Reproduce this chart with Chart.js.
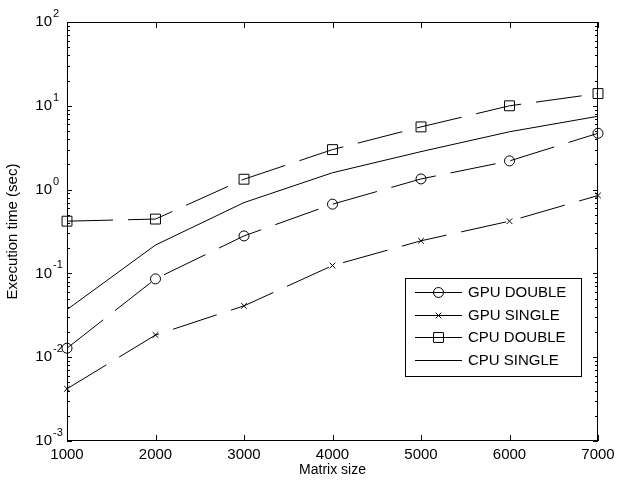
<!DOCTYPE html>
<html>
<head>
<meta charset="utf-8">
<script src="https://cdn.jsdelivr.net/npm/chart.js@4.4.1/dist/chart.umd.min.js"></script>
<style>
  body { margin: 0; background: #fff; }
  canvas { display: block; }
</style>
</head>
<body>
<canvas id="grafico" width="617" height="481"></canvas>
<script>
// dados
const matrixSizes = [1000, 2000, 3000, 4000, 5000, 6000, 7000];
const gpuDouble = [0.0128, 0.086, 0.28, 0.67, 1.34, 2.2, 4.7];
const gpuSingle = [0.0042, 0.0184, 0.041, 0.124, 0.245, 0.42, 0.85];
const cpuDouble = [0.42, 0.445, 1.33, 3.0, 5.6, 10, 14];
const cpuSingle = [0.037, 0.218, 0.70, 1.59, 2.84, 4.9, 7.5];

const xTickLabels = ['1000', '2000', '3000', '4000', '5000', '6000', '7000'];
const yTickExponents = [-3, -2, -1, 0, 1, 2];

const FONTE = '"Liberation Sans", Arial, sans-serif';

function pontos(valores) {
    return matrixSizes.map((x, i) => ({ x: x, y: valores[i] }));
}

function serie(label, valores, estilo, raio, tracejado) {
    return {
        label: label,
        data: pontos(valores),
        borderColor: '#000',
        borderWidth: 1,
        borderDash: tracejado ? [46, 15] : [],
        pointStyle: estilo,
        pointRadius: raio,
        pointBorderColor: '#000',
        pointBackgroundColor: 'rgba(0,0,0,0)',
        pointBorderWidth: 1,
        tension: 0,
        clip: false
    };
}

// eixos no estilo matlab: caixa, ticks para dentro, legenda com borda
const eixosMatlab = {
    id: 'eixosMatlab',
    afterDraw(chart) {
        const ctx = chart.ctx;
        const area = chart.chartArea;
        const sx = chart.scales.x;
        const sy = chart.scales.y;

        ctx.save();
        ctx.strokeStyle = '#000';
        ctx.lineWidth = 1;
        ctx.setLineDash([]);

        // caixa
        ctx.strokeRect(area.left + 0.5, area.top + 0.5, area.right - area.left - 1, area.bottom - area.top - 1);

        ctx.beginPath();
        // ticks x
        xTickLabels.forEach(t => {
            const px = Math.round(sx.getPixelForValue(Number(t))) + 0.5;
            ctx.moveTo(px, area.bottom);
            ctx.lineTo(px, area.bottom - 6);
            ctx.moveTo(px, area.top);
            ctx.lineTo(px, area.top + 6);
        });
        // ticks y maiores e menores
        yTickExponents.forEach(e => {
            const py = Math.round(sy.getPixelForValue(Math.pow(10, e))) + 0.5;
            ctx.moveTo(area.left, py);
            ctx.lineTo(area.left + 5, py);
            ctx.moveTo(area.right, py);
            ctx.lineTo(area.right - 5, py);
            if (e < yTickExponents[yTickExponents.length - 1]) {
                for (let m = 2; m <= 9; m++) {
                    const pm = Math.round(sy.getPixelForValue(m * Math.pow(10, e))) + 0.5;
                    ctx.moveTo(area.left, pm);
                    ctx.lineTo(area.left + 3, pm);
                    ctx.moveTo(area.right, pm);
                    ctx.lineTo(area.right - 3, pm);
                }
            }
        });
        ctx.stroke();

        // rótulos x
        ctx.fillStyle = '#000';
        ctx.font = '15px ' + FONTE;
        ctx.textAlign = 'center';
        ctx.textBaseline = 'middle';
        xTickLabels.forEach(t => {
            ctx.fillText(t, sx.getPixelForValue(Number(t)), area.bottom + 14);
        });

        // rótulos y com expoente
        yTickExponents.forEach(e => {
            const py = sy.getPixelForValue(Math.pow(10, e));
            ctx.font = '15px ' + FONTE;
            ctx.textAlign = 'right';
            ctx.textBaseline = 'middle';
            ctx.fillText('10', area.left - 15, py);
            ctx.font = '11px ' + FONTE;
            ctx.textAlign = 'left';
            ctx.fillText(String(e), area.left - 14, py - 8);
        });

        // títulos dos eixos
        ctx.font = '14px ' + FONTE;
        ctx.textAlign = 'center';
        ctx.textBaseline = 'middle';
        ctx.fillText('Matrix size', (area.left + area.right) / 2, area.bottom + 29);
        ctx.save();
        ctx.font = '15px ' + FONTE;
        ctx.translate(13, (area.top + area.bottom) / 2);
        ctx.rotate(-Math.PI / 2);
        ctx.fillText('Execution time (sec)', 0, 0);
        ctx.restore();

        // legenda
        const lx = 405, ly = 278, lw = 176, lh = 98;
        ctx.fillStyle = '#fff';
        ctx.fillRect(lx, ly, lw, lh);
        ctx.strokeRect(lx + 0.5, ly + 0.5, lw, lh);
        chart.data.datasets.forEach((ds, i) => {
            const y = Math.round(ly + 14 + i * 22.7) + 0.5;
            ctx.beginPath();
            ctx.moveTo(415, y);
            ctx.lineTo(462, y);
            ctx.stroke();
            const cx = 438.5;
            ctx.beginPath();
            if (ds.pointStyle === 'circle') {
                ctx.arc(cx, y, ds.pointRadius, 0, Math.PI * 2);
            } else if (ds.pointStyle === 'rect') {
                const s = ds.pointRadius * Math.SQRT1_2;
                ctx.rect(cx - s, y - s, 2 * s, 2 * s);
            } else if (ds.pointStyle === 'crossRot') {
                const o = ds.pointRadius * Math.SQRT1_2;
                ctx.moveTo(cx - o, y - o); ctx.lineTo(cx + o, y + o);
                ctx.moveTo(cx - o, y + o); ctx.lineTo(cx + o, y - o);
            }
            ctx.stroke();
            ctx.fillStyle = '#000';
            ctx.font = '15px ' + FONTE;
            ctx.textAlign = 'left';
            ctx.textBaseline = 'middle';
            ctx.fillText(ds.label, 468, y);
        });

        ctx.restore();
    }
};

new Chart(document.getElementById('grafico'), {
    type: 'line',
    data: {
        datasets: [
            serie('GPU DOUBLE', gpuDouble, 'circle', 5, true),
            serie('GPU SINGLE', gpuSingle, 'crossRot', 4, true),
            serie('CPU DOUBLE', cpuDouble, 'rect', 7, true),
            serie('CPU SINGLE', cpuSingle, false, 0, false)
        ]
    },
    options: {
        responsive: false,
        animation: false,
        layout: { padding: { left: 67, right: 19, top: 22, bottom: 40 } },
        plugins: {
            legend: { display: false },
            tooltip: { enabled: false }
        },
        scales: {
            x: { type: 'linear', min: 1000, max: 7000, display: false },
            y: { type: 'logarithmic', min: 0.001, max: 100, display: false }
        }
    },
    plugins: [eixosMatlab]
});
</script>
</body>
</html>
